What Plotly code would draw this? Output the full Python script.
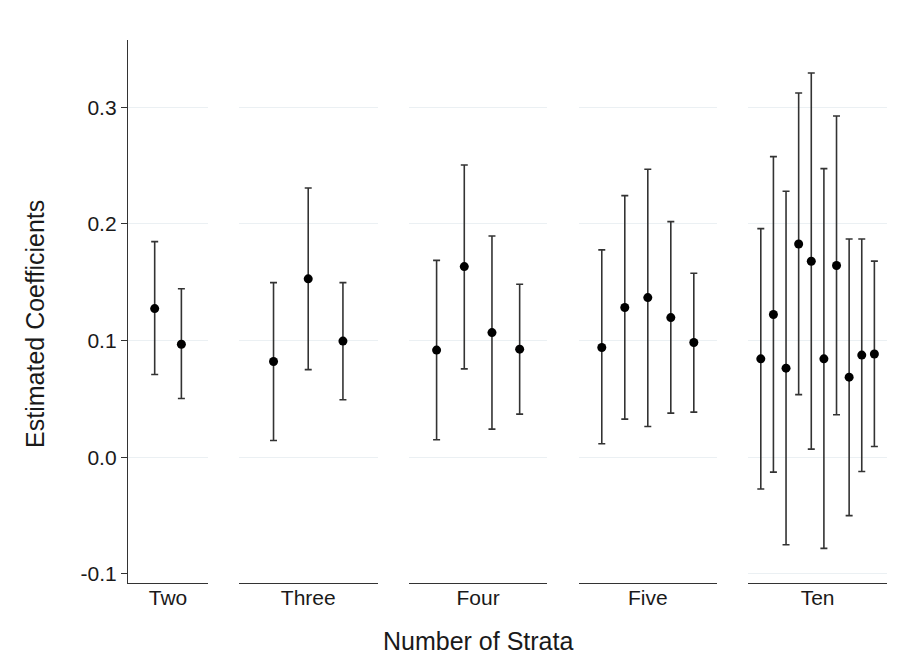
import plotly.graph_objects as go

# ---- data ----
groups = ["Two", "Three", "Four", "Five", "Ten"]

est_two = [0.1274, 0.0968]
lo_two = [0.0709, 0.0503]
hi_two = [0.1848, 0.1444]

est_three = [0.0820, 0.1529, 0.0995]
lo_three = [0.0143, 0.0751, 0.0492]
hi_three = [0.1497, 0.2308, 0.1497]

est_four = [0.0918, 0.1634, 0.1068, 0.0926]
lo_four = [0.0149, 0.0757, 0.0240, 0.0369]
hi_four = [0.1687, 0.2505, 0.1897, 0.1483]

est_five = [0.0940, 0.1283, 0.1368, 0.1197, 0.0983]
lo_five = [0.0115, 0.0326, 0.0263, 0.0378, 0.0386]
hi_five = [0.1777, 0.2243, 0.2469, 0.2020, 0.1577]

est_ten = [0.0843, 0.1223, 0.0763, 0.1828, 0.1680, 0.0843, 0.1643, 0.0686, 0.0875, 0.0885]
lo_ten = [-0.0273, -0.0128, -0.0751, 0.0536, 0.0069, -0.0782, 0.0364, -0.0501, -0.0123, 0.0092]
hi_ten = [0.1960, 0.2577, 0.2280, 0.3122, 0.3294, 0.2474, 0.2925, 0.1871, 0.1871, 0.1681]

y_tickvals = [-0.1, 0.0, 0.1, 0.2, 0.3]
y_ticktext = ["-0.1", "0.0", "0.1", "0.2", "0.3"]

series = [
    (est_two, lo_two, hi_two),
    (est_three, lo_three, hi_three),
    (est_four, lo_four, hi_four),
    (est_five, lo_five, hi_five),
    (est_ten, lo_ten, hi_ten),
]

# ---- layout geometry (page body has an 8px margin) ----
OFF = 8
W, H = 901 - OFF, 657 - OFF
ML, MR, MT, MB = 128.3 - OFF, 14.3, 40 - OFF, 73.7
PW, PH = W - ML - MR, H - MT - MB
domains = [
    [0.0, 0.1055],
    [0.1460, 0.3289],
    [0.3701, 0.5525],
    [0.5939, 0.7758],
    [0.8171, 1.0],
]
YR = [-0.1079, 0.3577]
FONT = "Liberation Sans, Arial, sans-serif"
LINE = "#333333"
GRID = "#EBF0F3"
TXT = "#1a1a1a"

fig = go.Figure()
layout = dict(
    width=W, height=H,
    margin=dict(l=ML, r=MR, t=MT, b=MB, pad=0),
    paper_bgcolor="white", plot_bgcolor="white",
    showlegend=False,
    font=dict(family=FONT, size=21, color=TXT),
)

for i, (g, (est, lo, hi)) in enumerate(zip(groups, series)):
    n = len(est)
    xs = list(range(1, n + 1))
    up = [h - e for h, e in zip(hi, est)]
    dn = [e - l for e, l in zip(est, lo)]
    suffix = "" if i == 0 else str(i + 1)
    fig.add_trace(go.Scatter(
        x=xs, y=est, mode="markers",
        marker=dict(color="black", size=9),
        error_y=dict(type="data", symmetric=False, array=up, arrayminus=dn,
                     color=LINE, thickness=1.6, width=3.5),
        xaxis="x" + suffix, yaxis="y" + suffix,
        cliponaxis=False,
    ))
    xa = dict(
        domain=domains[i], range=[0, n + 1], anchor="y" + suffix,
        tickmode="array", tickvals=[(n + 1) / 2], ticktext=[g],
        ticks="outside", ticklen=0, tickcolor="rgba(0,0,0,0)",
        ticklabelstandoff=-4,
        showgrid=False, zeroline=False,
        showline=True, linecolor=LINE, linewidth=1.3,
        tickfont=dict(size=21, color=TXT),
        fixedrange=True,
    )
    ya = dict(
        range=YR, anchor="x" + suffix, domain=[0, 1],
        zeroline=False, fixedrange=True,
        tickmode="array",
    )
    if i == 0:
        ya.update(
            tickvals=y_tickvals, ticktext=y_ticktext,
            showgrid=False,
            minor=dict(tickmode="array", tickvals=y_tickvals[1:], showgrid=True,
                       gridcolor=GRID, gridwidth=1.2, ticks=""),
            ticks="outside", ticklen=6, tickcolor=LINE, tickwidth=1.2,
            showline=True, linecolor=LINE, linewidth=1.3,
            tickfont=dict(size=21, color=TXT),
        )
    else:
        grid_vals = y_tickvals if g == "Ten" else y_tickvals[1:]
        ya.update(
            tickvals=grid_vals, showticklabels=False, ticks="",
            showgrid=True, gridcolor=GRID, gridwidth=1.2,
            showline=False, matches="y",
        )
    layout["xaxis" + suffix] = xa
    layout["yaxis" + suffix] = ya

layout["annotations"] = [
    dict(text="Number of Strata", xref="paper", yref="paper",
         x=(478 - OFF - ML) / PW, y=(H - MB - (641 - OFF)) / PH,
         xanchor="center", yanchor="middle", showarrow=False,
         font=dict(size=25, color=TXT)),
    dict(text="Estimated Coefficients", xref="paper", yref="paper",
         x=(35.5 - OFF - ML) / PW, y=(H - MB - (324 - OFF)) / PH,
         xanchor="center", yanchor="middle", showarrow=False, textangle=-90,
         font=dict(size=25, color=TXT)),
]

fig.update_layout(**layout)
fig.write_html("out.html")
